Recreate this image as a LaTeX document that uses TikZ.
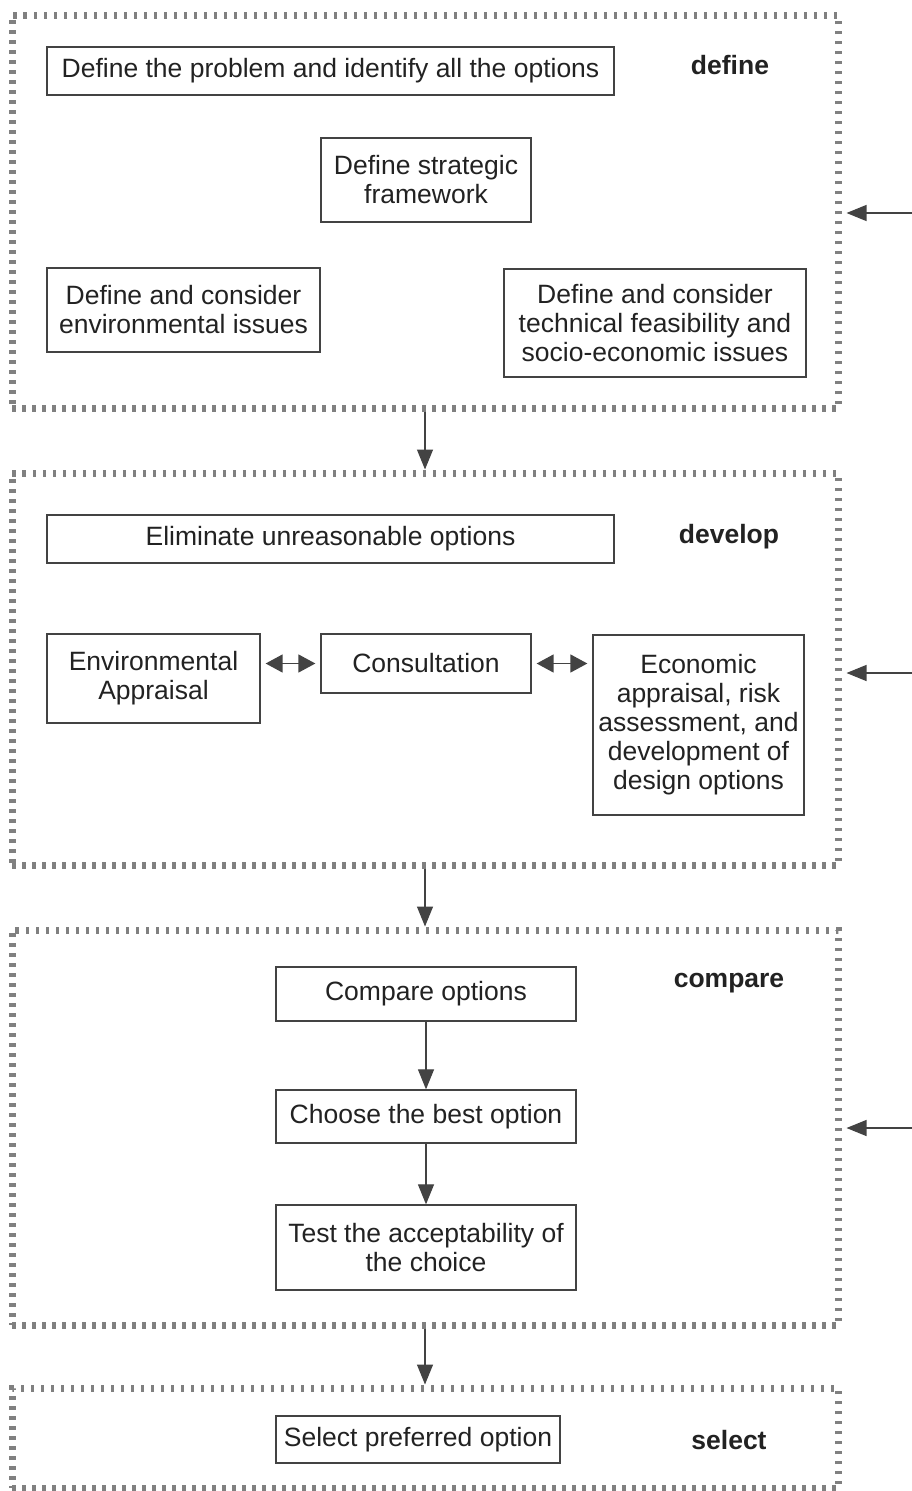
\documentclass[tikz,border=0pt]{standalone}
\usepackage{fontspec}
\setmainfont{Liberation Sans}
\usetikzlibrary{arrows.meta}
\definecolor{txt}{HTML}{222222}
\definecolor{frm}{HTML}{808080}
\begin{document}
\begin{tikzpicture}[x=1pt,y=-1pt,
  every node/.style={font=\fontsize{26.5}{29}\selectfont, text=txt},
  frame/.style={draw=frm, line width=7pt, dash pattern=on 3.5pt off 6.5pt, inner sep=0pt},
  box/.style={draw=txt!85, line width=1.3pt, inner sep=2pt, align=center},
  lbl/.style={font=\fontsize{26.5}{29}\selectfont\bfseries},
  arr/.style={-{Triangle[length=20pt,width=16pt]}, line width=1.2pt, draw=txt!85},
  darr/.style={arrows={Triangle[length=17pt,width=18pt]-Triangle[length=17pt,width=18pt]}, line width=1.5pt, draw=txt!85}]
\useasboundingbox (0,0) rectangle (912,1491);
\fill[white] (0,0) rectangle (912,1491);
% frames
\node[frame, minimum width=826pt, minimum height=393pt] (f1) at (425,211.5) {};
\node[frame, minimum width=826pt, minimum height=392pt] (f2) at (425,669) {};
\node[frame, minimum width=826pt, minimum height=395pt] (f3) at (425,1127.5) {};
\node[frame, minimum width=826pt, minimum height=100pt] (f4) at (425,1438) {};
% define
\node[box, minimum width=567pt, minimum height=48pt] (a1) at (330.5,71) {Define the problem and identify all the options};
\node[box, minimum width=210pt, minimum height=84pt] (a2) at (426,180) {Define strategic\\framework};
\node[box, minimum width=273pt, minimum height=84pt] (a3) at (183.5,310) {Define and consider\\environmental issues};
\node[box, minimum width=302pt, minimum height=108pt] (a4) at (655,323) {Define and consider\\technical feasibility and\\socio-economic issues};
\node[lbl] (l1) at (730,65) {define};
% develop
\node[box, minimum width=567pt, minimum height=48pt] (b1) at (330.5,539) {Eliminate unreasonable options};
\node[box, minimum width=213pt, minimum height=89pt] (b2) at (153.5,678.5) {Environmental\\Appraisal};
\node[box, minimum width=210pt, minimum height=59pt] (b3) at (426,663.5) {Consultation};
\node[box, minimum width=211pt, minimum height=180pt] (b4) at (698.5,725) {Economic\\appraisal, risk\\assessment, and\\development of\\design options};
\node[lbl] (l2) at (729,537) {develop};
% compare
\node[box, minimum width=300pt, minimum height=54pt] (c1) at (426,994) {Compare options};
\node[box, minimum width=300pt, minimum height=53pt] (c2) at (426,1116.5) {Choose the best option};
\node[box, minimum width=300pt, minimum height=85pt] (c3) at (426,1247.5) {Test the acceptability of\\the choice};
\node[lbl] (l3) at (729,983) {compare};
% select
\node[box, minimum width=284pt, minimum height=47pt] (d1) at (418,1439.5) {Select preferred option};
\node[lbl] (l4) at (729,1440) {select};
% connectors
\draw[arr] (f1.south) -- (f2.north);
\draw[arr] (f2.south) -- (f3.north);
\draw[arr] (f3.south) -- (f4.north);
\draw[arr] (c1) -- (c2);
\draw[arr] (c2) -- (c3);
\draw[darr, shorten <=5pt, shorten >=5pt] (b2.east |- b3.west) -- (b3.west);
\draw[darr, shorten <=5pt, shorten >=5pt] (b3.east) -- (b4.west |- b3.east);
\coordinate (r1) at (915,213);
\coordinate (r2) at (915,673);
\coordinate (r3) at (915,1128);
\draw[arr, shorten >=5pt] (r1) -- (f1.east |- r1);
\draw[arr, shorten >=5pt] (r2) -- (f2.east |- r2);
\draw[arr, shorten >=5pt] (r3) -- (f3.east |- r3);
\end{tikzpicture}
\end{document}
